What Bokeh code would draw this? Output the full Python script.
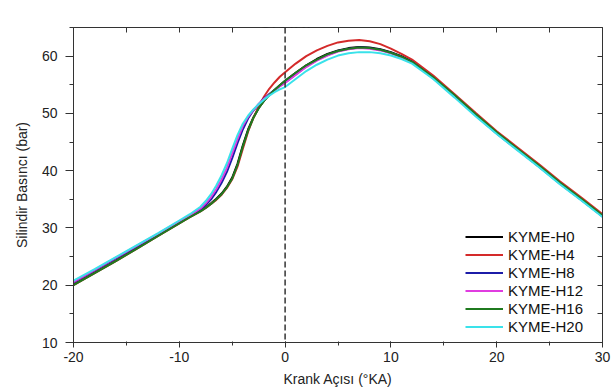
from bokeh.plotting import figure
from bokeh.models import (LinearAxis, SingleIntervalTicker, FixedTicker, Span,
                          Label, Legend, LegendItem, Range1d)
from bokeh.embed import file_html
from bokeh.resources import INLINE

# Crank angle (degrees relative to TDC)
crank_angle = [-20, -18, -16, -14, -12, -10, -9, -8, -7.5, -7, -6.5, -6, -5.5, -5,
               -4.5, -4, -3.5, -3, -2.5, -2, -1.5, -1, -0.5, 0, 1, 2, 3, 4, 5, 6,
               7, 8, 9, 10, 11, 12, 14, 16, 18, 20, 22, 24, 26, 28, 30]

# Cylinder pressure (bar) for each fuel blend
p_h0 = [20.1, 22.2, 24.3, 26.5, 28.7, 30.9, 32.0, 33.0, 33.6, 34.3, 35.1, 36.0, 37.2, 38.8,
        41.2, 44.4, 47.2, 49.3, 50.9, 52.2, 53.2, 54.1, 54.9, 55.7, 57.1, 58.4, 59.5, 60.4,
        61.0, 61.4, 61.6, 61.5, 61.2, 60.7, 60.0, 59.1, 56.3, 53.2, 49.9, 46.7, 43.8, 40.9,
        37.9, 35.1, 32.2]
p_h4 = [20.0, 22.1, 24.2, 26.4, 28.6, 30.8, 31.9, 32.9, 33.5, 34.2, 34.9, 35.8, 37.0, 38.5,
        40.7, 43.8, 46.8, 49.2, 51.2, 52.9, 54.3, 55.4, 56.4, 57.2, 58.7, 60.0, 61.0, 61.8,
        62.4, 62.7, 62.8, 62.6, 62.1, 61.3, 60.4, 59.4, 56.6, 53.4, 50.1, 46.9, 44.0, 41.1,
        38.1, 35.3, 32.4]
p_h8 = [20.5, 22.6, 24.7, 26.8, 28.9, 31.1, 32.1, 33.2, 34.0, 35.0, 36.3, 37.9, 39.8, 42.2,
        44.8, 47.2, 49.1, 50.5, 51.6, 52.6, 53.4, 54.1, 54.8, 55.4, 56.8, 58.2, 59.3, 60.2,
        60.9, 61.3, 61.5, 61.4, 61.1, 60.6, 59.9, 59.0, 56.2, 53.0, 49.7, 46.5, 43.6, 40.7,
        37.7, 34.9, 32.0]
p_h12 = [20.6, 22.7, 24.8, 26.9, 29.0, 31.2, 32.2, 33.4, 34.3, 35.4, 36.8, 38.5, 40.5, 43.0,
         45.5, 47.8, 49.4, 50.6, 51.6, 52.5, 53.3, 54.0, 54.7, 55.3, 56.7, 58.1, 59.2, 60.1,
         60.8, 61.2, 61.4, 61.3, 61.0, 60.5, 59.8, 58.9, 56.1, 53.0, 49.7, 46.5, 43.6, 40.7,
         37.8, 34.9, 32.1]
p_h16 = [20.0, 22.1, 24.2, 26.4, 28.6, 30.8, 31.9, 32.9, 33.5, 34.2, 35.0, 35.9, 37.1, 38.6,
         41.0, 44.2, 47.0, 49.2, 50.9, 52.2, 53.2, 54.1, 54.9, 55.7, 57.1, 58.4, 59.4, 60.3,
         60.9, 61.3, 61.5, 61.4, 61.1, 60.6, 59.9, 59.0, 56.3, 53.2, 49.9, 46.7, 43.8, 40.9,
         37.9, 35.1, 32.2]
p_h20 = [20.8, 22.8, 24.9, 27.0, 29.1, 31.3, 32.4, 33.7, 34.7, 35.9, 37.4, 39.2, 41.3, 43.8,
         46.2, 48.2, 49.6, 50.7, 51.6, 52.4, 53.1, 53.7, 54.2, 54.6, 56.0, 57.4, 58.5, 59.4,
         60.1, 60.5, 60.7, 60.7, 60.5, 60.1, 59.5, 58.7, 56.0, 52.8, 49.5, 46.4, 43.5, 40.6,
         37.6, 34.8, 31.9]

series_names = ["KYME-H0", "KYME-H4", "KYME-H8", "KYME-H12", "KYME-H16", "KYME-H20"]
series_values = [p_h0, p_h4, p_h8, p_h12, p_h16, p_h20]
series_colors = ["#000000", "#d42a2a", "#1c1ca8", "#e03ce0", "#1f7a1f", "#3ae2ea"]

x_ticks = [-20, -10, 0, 10, 20, 30]
x_tick_labels = ["-20", "-10", "0", "10", "20", "30"]
top_ticks = [-15, -10, -5, 5, 10, 15, 20, 25]
right_ticks = [15, 20, 25, 30, 35, 40, 45, 50, 55, 60]

FONT = "Liberation Sans"
TXT = "#222222"

p = figure(width=616, height=389, output_backend="svg", toolbar_location=None,
           x_range=Range1d(-20, 30), y_range=Range1d(10, 65),
           x_axis_location=None, y_axis_location=None,
           min_border_left=73, min_border_right=14, min_border_top=27,
           min_border_bottom=47)
p.grid.visible = False
p.outline_line_color = "#333333"
p.background_fill_color = "white"
p.border_fill_color = "white"

# Bottom axis (plain hyphen-minus on negative labels)
xa = LinearAxis(ticker=SingleIntervalTicker(interval=10, num_minor_ticks=2),
                axis_label="Krank Açısı (°KA)")
xa.major_label_overrides = dict(zip(x_ticks, x_tick_labels))
xa.major_tick_out = 5
xa.major_tick_in = 1
xa.minor_tick_out = 3
xa.minor_tick_in = 1
xa.major_label_standoff = 4
xa.axis_label_standoff = 6
xa.major_label_text_font = FONT
xa.major_label_text_font_size = "14px"
xa.axis_label_text_font = FONT
xa.axis_label_text_font_size = "14px"
xa.axis_label_text_font_style = "normal"
xa.major_label_text_color = TXT
xa.axis_label_text_color = TXT
p.add_layout(xa, "below")

# Left axis
ya = LinearAxis(ticker=SingleIntervalTicker(interval=10, num_minor_ticks=2),
                axis_label="Silindir Basıncı (bar)")
ya.major_tick_out = 8
ya.major_tick_in = 0
ya.minor_tick_out = 4
ya.minor_tick_in = 0
ya.major_label_standoff = 8
ya.axis_label_standoff = 9
ya.major_label_text_font = FONT
ya.major_label_text_font_size = "14px"
ya.axis_label_text_font = FONT
ya.axis_label_text_font_size = "14px"
ya.axis_label_text_font_style = "normal"
ya.major_label_text_color = TXT
ya.axis_label_text_color = TXT
p.add_layout(ya, "left")

# Top and right frame axes: inward ticks, no labels
ta = LinearAxis(ticker=FixedTicker(ticks=top_ticks))
ta.major_label_overrides = {t: "" for t in top_ticks}
ta.major_tick_in = 5
ta.major_tick_out = 0
ta.major_label_standoff = 0
p.add_layout(ta, "above")

ra = LinearAxis(ticker=FixedTicker(ticks=right_ticks))
ra.major_label_overrides = {t: "" for t in right_ticks}
ra.major_tick_in = 5
ra.major_tick_out = 0
ra.major_label_standoff = 0
p.add_layout(ra, "right")

for a in [xa, ya, ta, ra]:
    a.axis_line_color = "#333333"
    a.major_tick_line_color = "#333333"
    a.minor_tick_line_color = "#333333"

# TDC marker
p.add_layout(Span(location=0, dimension="height", line_color="#333333",
                  line_width=1.5, line_dash="6 3"))
p.add_layout(Label(x=0, y=65, x_units="data", y_units="data", text="Ü.Ö.N.",
                   text_align="center", text_baseline="alphabetic", y_offset=5,
                   text_font=FONT, text_font_size="17px", text_color=TXT))

items = []
for name, vals, col in zip(series_names, series_values, series_colors):
    r = p.line(crank_angle, vals, line_color=col, line_width=2)
    items.append(LegendItem(label=name, renderers=[r]))

legend = Legend(items=items, location=(392, 7), border_line_color=None,
                background_fill_alpha=0, padding=0, margin=0, spacing=1,
                glyph_width=38, glyph_height=17, label_height=17,
                label_standoff=5, label_text_font=FONT,
                label_text_font_size="15px", label_text_color="#111111")
p.add_layout(legend)

open("out.html", "w").write(file_html(p, INLINE))
